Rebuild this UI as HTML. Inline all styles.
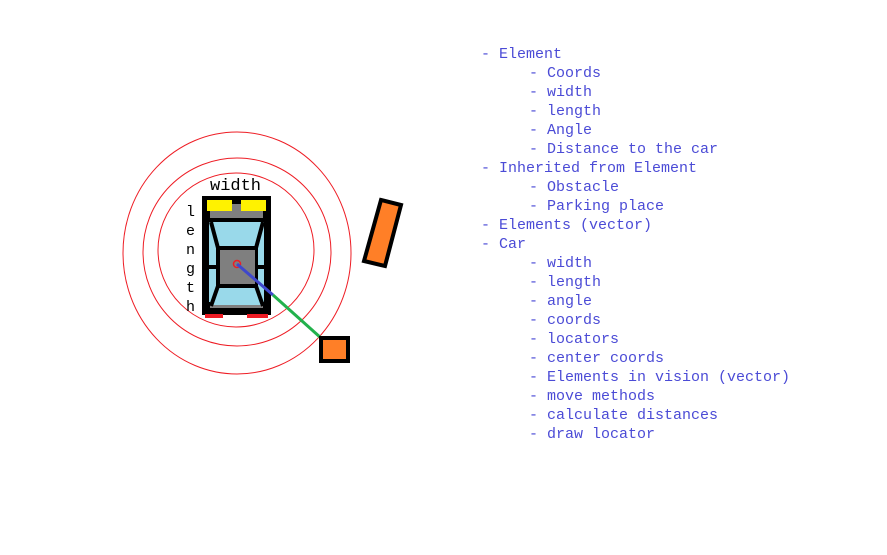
<!DOCTYPE html>
<html><head><meta charset="utf-8"><style>
html,body{margin:0;padding:0;background:#fff;}
svg{display:block;}
text{font-family:"Liberation Mono",monospace;font-size:15px;}
</style></head><body>
<svg width="887" height="555" viewBox="0 0 887 555">
<g fill="none" stroke="#ee1c24" stroke-width="1">
<ellipse cx="237" cy="253" rx="114" ry="121"/>
<ellipse cx="237" cy="252" rx="94" ry="94"/>
<ellipse cx="236" cy="250" rx="78" ry="77"/>
</g>
<g>
<rect x="202" y="196" width="69" height="119" fill="#000"/>
<rect x="205" y="314" width="18" height="4" fill="#ee1c24"/>
<rect x="247" y="314" width="21" height="4" fill="#ee1c24"/>
<rect x="210" y="204" width="53" height="104" fill="#7f7f7f"/>
<polygon points="212,222 262,222 255,248 219,248" fill="#99d9ea"/>
<polygon points="219,288 255,288 262,305 212,305" fill="#99d9ea"/>
<rect x="209" y="222" width="8" height="80" fill="#99d9ea"/>
<rect x="257" y="222" width="7" height="80" fill="#99d9ea"/>
<g stroke="#000" stroke-width="4" fill="none">
<polyline points="210,220 264,220"/>
<polyline points="211,222 218,248 256,248 263,222"/>
<polyline points="211,306 218,286 256,286 263,306"/>
<line x1="218" y1="248" x2="218" y2="286"/>
<line x1="256" y1="248" x2="256" y2="286"/>
<line x1="209" y1="267" x2="218" y2="267"/>
<line x1="256" y1="267" x2="265" y2="267"/>
</g>
<rect x="220" y="250" width="35" height="34" fill="#7f7f7f"/>
<rect x="207" y="200" width="25" height="11" fill="#fff200"/>
<rect x="241" y="200" width="25" height="11" fill="#fff200"/>
<circle cx="237" cy="264" r="3.5" fill="none" stroke="#ee1c24" stroke-width="1.5"/>
</g>
<line x1="237" y1="264" x2="273" y2="295" stroke="#3f48cc" stroke-width="3"/>
<line x1="273" y1="295" x2="321" y2="338" stroke="#22b14c" stroke-width="3"/>
<rect x="321" y="338" width="27" height="23" fill="#ff7f27" stroke="#000" stroke-width="4"/>
<polygon points="381,200 401,205 385,266 364,261" fill="#ff7f27" stroke="#000" stroke-width="4"/>
<text x="210" y="190" fill="#000" style="font-size:17px">width</text>
<g fill="#000">
<text x="186" y="216">l</text><text x="186" y="235">e</text><text x="186" y="254">n</text><text x="186" y="273">g</text><text x="186" y="292">t</text><text x="186" y="311">h</text>
</g>
<g fill="#4b4bd6">
<text x="481" y="58">- Element</text>
<text x="529" y="77">- Coords</text>
<text x="529" y="96">- width</text>
<text x="529" y="115">- length</text>
<text x="529" y="134">- Angle</text>
<text x="529" y="153">- Distance to the car</text>
<text x="481" y="172">- Inherited from Element</text>
<text x="529" y="191">- Obstacle</text>
<text x="529" y="210">- Parking place</text>
<text x="481" y="229">- Elements (vector)</text>
<text x="481" y="248">- Car</text>
<text x="529" y="267">- width</text>
<text x="529" y="286">- length</text>
<text x="529" y="305">- angle</text>
<text x="529" y="324">- coords</text>
<text x="529" y="343">- locators</text>
<text x="529" y="362">- center coords</text>
<text x="529" y="381">- Elements in vision (vector)</text>
<text x="529" y="400">- move methods</text>
<text x="529" y="419">- calculate distances</text>
<text x="529" y="438">- draw locator</text>
</g>
</svg>
</body></html>
